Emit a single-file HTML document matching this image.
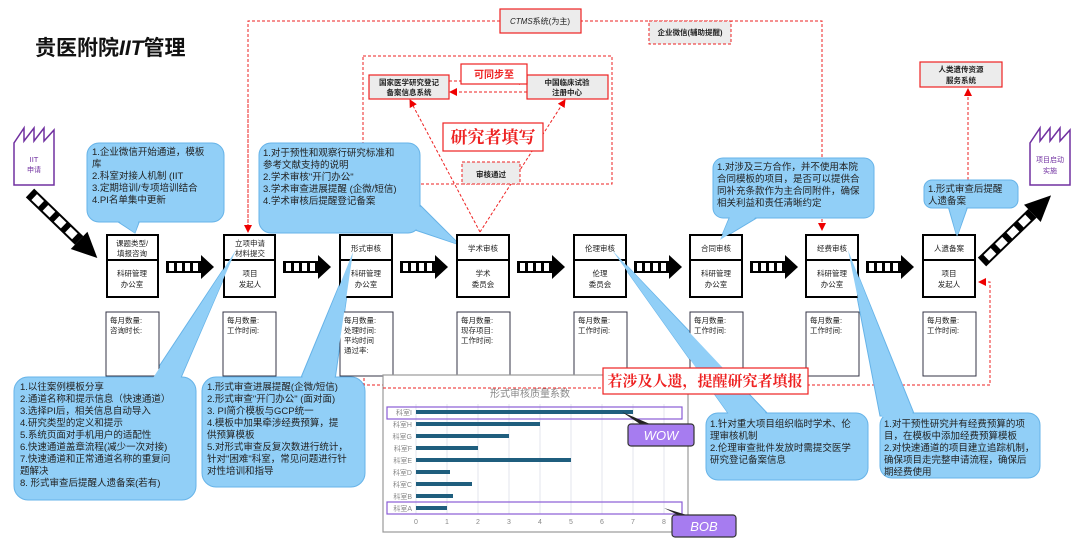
<!DOCTYPE html>
<html><head><meta charset="utf-8">
<style>
html,body{margin:0;padding:0;background:#fff;}
svg{display:block;font-family:"Liberation Sans","Noto Sans CJK SC",sans-serif;}
.bt{font-size:9.5px;fill:#222;}
.bx{font-size:8px;fill:#222;}
.sm{font-size:7.5px;fill:#222;}
</style></head><body>
<svg width="1080" height="549" viewBox="0 0 1080 549" xmlns="http://www.w3.org/2000/svg">
<defs>
<g id="fa">
<rect x="0" y="-6" width="35" height="12" fill="#000"/>
<rect x="3" y="-4" width="5" height="8" fill="#fff"/>
<rect x="11" y="-4" width="5" height="8" fill="#fff"/>
<rect x="19" y="-4" width="5" height="8" fill="#fff"/>
<rect x="27" y="-4" width="5" height="8" fill="#fff"/>
<polygon points="35,-12 48,0 35,12" fill="#000"/>
</g>
<marker id="ar" markerWidth="8" markerHeight="8" refX="7" refY="4" orient="auto" markerUnits="userSpaceOnUse"><polygon points="0,0 8,4 0,8" fill="#e00"/></marker>
</defs>

<text x="35" y="55" font-size="21" font-weight="bold" fill="#111">贵医附院<tspan font-style="italic">IIT</tspan>管理</text>

<g stroke="#e22" stroke-width="1" stroke-dasharray="3,2" fill="none">
<polyline points="248,232 248,21 500,21"/>
<polyline points="580,21 822,21 822,230" marker-end="url(#ar)"/>
<line x1="248" y1="100" x2="248" y2="232" marker-end="url(#ar)"/>
<rect x="363" y="56" width="249" height="128"/>
<line x1="449" y1="81" x2="526" y2="81" marker-end="url(#ar)"/>
<line x1="527" y1="92" x2="450" y2="92" marker-end="url(#ar)"/>
<line x1="480" y1="232" x2="410" y2="100" marker-end="url(#ar)"/>
<line x1="480" y1="232" x2="565" y2="100" marker-end="url(#ar)"/>
<line x1="968" y1="185" x2="968" y2="89" marker-end="url(#ar)"/>
<polyline points="364,368 364,385 990,385 990,282 979,282" marker-end="url(#ar)"/>
</g>

<rect x="500" y="9" width="81" height="24" fill="#ececec" stroke="#e22" stroke-width="1.2"/>
<text x="540" y="24" class="bx" text-anchor="middle"><tspan font-style="italic">CTMS</tspan>系统(为主)</text>
<rect x="649" y="21" width="82" height="23" fill="#ececec" stroke="#e22" stroke-dasharray="3,2"/>
<text x="690" y="35" class="sm" text-anchor="middle" font-weight="bold">企业微信(辅助提醒)</text>

<rect x="369" y="75" width="80" height="24" fill="#ececec" stroke="#e22" stroke-width="1.2"/>
<text x="409" y="85" class="sm" text-anchor="middle" font-weight="bold">国家医学研究登记</text>
<text x="409" y="95" class="sm" text-anchor="middle" font-weight="bold">备案信息系统</text>
<rect x="527" y="75" width="81" height="24" fill="#ececec" stroke="#e22" stroke-width="1.2"/>
<text x="567" y="85" class="sm" text-anchor="middle" font-weight="bold">中国临床试验</text>
<text x="567" y="95" class="sm" text-anchor="middle" font-weight="bold">注册中心</text>
<rect x="461" y="64" width="66" height="20" fill="#fff" stroke="#e22" stroke-width="1.2"/>
<text x="494" y="78" font-size="10" font-weight="bold" fill="#e22" text-anchor="middle">可同步至</text>
<rect x="443" y="123" width="100" height="28" fill="#fff" stroke="#e22" stroke-width="1.2"/>
<text x="493" y="143" font-size="17" font-weight="bold" fill="#e22" text-anchor="middle" font-family="Liberation Serif,Noto Serif CJK SC,serif">研究者填写</text>
<rect x="462" y="162" width="58" height="22" fill="#ececec" stroke="#e22" stroke-dasharray="3,2"/>
<text x="491" y="177" class="sm" text-anchor="middle" font-weight="bold">审核通过</text>

<rect x="920" y="62" width="82" height="25" fill="#ececec" stroke="#e22" stroke-width="1.2"/>
<text x="961" y="72" class="sm" text-anchor="middle" font-weight="bold">人类遗传资源</text>
<text x="961" y="83" class="sm" text-anchor="middle" font-weight="bold">服务系统</text>

<g fill="#fff" stroke="#7030a0" stroke-width="1.5">
<polygon points="14,185 14,143 24,128 24,141 34,128 34,141 44,128 44,141 54,130 54,185"/>
<polygon points="1030,185 1030,143 1040,128 1040,141 1050,128 1050,141 1060,128 1060,141 1070,130 1070,185"/>
</g>
<text x="34" y="162" font-size="7.5" fill="#7030a0" text-anchor="middle">IIT</text>
<text x="34" y="172" font-size="7" fill="#7030a0" text-anchor="middle">申请</text>
<text x="1050" y="162" font-size="7" fill="#7030a0" text-anchor="middle">项目启动</text>
<text x="1050" y="173" font-size="7" fill="#7030a0" text-anchor="middle">实施</text>

<use href="#fa" transform="translate(30,193) rotate(44) scale(1.95,1)"/>
<use href="#fa" transform="translate(982,262) rotate(-44) scale(2,1)"/>
<use href="#fa" transform="translate(166,267)"/>
<use href="#fa" transform="translate(283,267)"/>
<use href="#fa" transform="translate(400,267)"/>
<use href="#fa" transform="translate(517,267)"/>
<use href="#fa" transform="translate(634,267)"/>
<use href="#fa" transform="translate(750,267)"/>
<use href="#fa" transform="translate(866,267)"/>

<g fill="#91cff7" stroke="#66b3e8" stroke-width="1">
<polygon points="115,220 135,233 140,220"/>
<rect x="87" y="143" width="137" height="79" rx="12"/>
<polygon points="116,219 135,233 139,219" stroke="none"/>

<polygon points="400,225 460,245 420,205"/>
<rect x="259" y="143" width="161" height="90" rx="12"/>
<polygon points="401,224 460,245 419,206" stroke="none"/>

<polygon points="730,216 720,240 760,216"/>
<rect x="713" y="158" width="161" height="60" rx="10"/>
<polygon points="731,215 720,240 759,215" stroke="none"/>

<polygon points="948,206 957,237 968,206"/>
<rect x="924" y="180" width="94" height="28" rx="8"/>
<polygon points="949,205 957,237 967,205" stroke="none"/>

<polygon points="150,380 236,250 180,380"/>
<rect x="14" y="377" width="182" height="123" rx="14"/>
<polygon points="151,381 236,250 179,381" stroke="none"/>

<polygon points="300,380 353,252 335,380"/>
<rect x="202" y="377" width="163" height="110" rx="14"/>
<polygon points="301,381 353,252 334,381" stroke="none"/>

<polygon points="730,416 612,250 770,416"/>
<rect x="706" y="413" width="162" height="67" rx="12"/>
<polygon points="731,417 612,250 769,417" stroke="none"/>

<polygon points="880,416 848,250 915,416"/>
<rect x="880" y="413" width="160" height="65" rx="12"/>
<polygon points="882,417 848,250 914,417" stroke="none"/>
</g>

<g class="bt">
<text x="92" y="155">1.企业微信开始通道，模板</text>
<text x="92" y="167">库</text>
<text x="92" y="179">2.科室对接人机制 (IIT</text>
<text x="92" y="191">3.定期培训/专项培训结合</text>
<text x="92" y="203">4.PI名单集中更新</text>

<text x="263" y="156">1.对于预性和观察行研究标准和</text>
<text x="263" y="168">参考文献支持的说明</text>
<text x="263" y="180">2.学术审核"开门办公"</text>
<text x="263" y="192">3.学术审查进展提醒 (企微/短信)</text>
<text x="263" y="204">4.学术审核后提醒登记备案</text>

<text x="717" y="170">1.对涉及三方合作，并不使用本院</text>
<text x="717" y="182">合同模板的项目，是否可以提供合</text>
<text x="717" y="194">同补充条款作为主合同附件，确保</text>
<text x="717" y="206">相关利益和责任清晰约定</text>

<text x="928" y="192">1.形式审查后提醒</text>
<text x="928" y="204">人遗备案</text>

<text x="20" y="390">1.以往案例模板分享</text>
<text x="20" y="402">2.通道名称和提示信息（快速通道）</text>
<text x="20" y="414">3.选择PI后，相关信息自动导入</text>
<text x="20" y="426">4.研究类型的定义和提示</text>
<text x="20" y="438">5.系统页面对手机用户的适配性</text>
<text x="20" y="450">6.快速通道盖章流程(减少一次对接)</text>
<text x="20" y="462">7.快速通道和正常通道名称的重复问</text>
<text x="20" y="474">题解决</text>
<text x="20" y="486">8. 形式审查后提醒人遗备案(若有)</text>

<text x="207" y="390">1.形式审查进展提醒(企微/短信)</text>
<text x="207" y="402">2.形式审查"开门办公" (面对面)</text>
<text x="207" y="414">3. PI简介模板与GCP统一</text>
<text x="207" y="426">4.模板中加果牵涉经费预算，提</text>
<text x="207" y="438">供预算模板</text>
<text x="207" y="450">5.对形式审查反复次数进行统计，</text>
<text x="207" y="462">针对"困难"科室，常见问题进行针</text>
<text x="207" y="474">对性培训和指导</text>

<text x="710" y="427">1.针对重大项目组织临时学术、伦</text>
<text x="710" y="439">理审核机制</text>
<text x="710" y="451">2.伦理审查批件发放时需提交医学</text>
<text x="710" y="463">研究登记备案信息</text>

<text x="884" y="427">1.对干预性研究并有经费预算的项</text>
<text x="884" y="439">目，在模板中添加经费预算模板</text>
<text x="884" y="451">2.对快速通道的项目建立追踪机制，</text>
<text x="884" y="463">确保项目走完整申请流程，确保后</text>
<text x="884" y="475">期经费使用</text>
</g>

<g fill="#fff" stroke="#000" stroke-width="2">
<rect x="107" y="235" width="51" height="62"/><line x1="107" y1="260" x2="158" y2="260"/>
<rect x="224" y="235" width="51" height="62"/><line x1="224" y1="260" x2="275" y2="260"/>
<rect x="340" y="235" width="52" height="62"/><line x1="340" y1="260" x2="392" y2="260"/>
<rect x="457" y="235" width="52" height="62"/><line x1="457" y1="260" x2="509" y2="260"/>
<rect x="574" y="235" width="52" height="62"/><line x1="574" y1="260" x2="626" y2="260"/>
<rect x="690" y="235" width="52" height="62"/><line x1="690" y1="260" x2="742" y2="260"/>
<rect x="806" y="235" width="52" height="62"/><line x1="806" y1="260" x2="858" y2="260"/>
<rect x="923" y="235" width="52" height="62"/><line x1="923" y1="260" x2="975" y2="260"/>
</g>
<g class="sm" text-anchor="middle">
<text x="132" y="246">课题类型/</text><text x="132" y="256">填报咨询</text>
<text x="132" y="276">科研管理</text><text x="132" y="287">办公室</text>
<text x="250" y="246">立项申请</text><text x="250" y="256">材料提交</text>
<text x="250" y="276">项目</text><text x="250" y="287">发起人</text>
<text x="366" y="251">形式审核</text>
<text x="366" y="276">科研管理</text><text x="366" y="287">办公室</text>
<text x="483" y="251">学术审核</text>
<text x="483" y="276">学术</text><text x="483" y="287">委员会</text>
<text x="600" y="251">伦理审核</text>
<text x="600" y="276">伦理</text><text x="600" y="287">委员会</text>
<text x="716" y="251">合同审核</text>
<text x="716" y="276">科研管理</text><text x="716" y="287">办公室</text>
<text x="832" y="251">经费审核</text>
<text x="832" y="276">科研管理</text><text x="832" y="287">办公室</text>
<text x="949" y="251">人遗备案</text>
<text x="949" y="276">项目</text><text x="949" y="287">发起人</text>
</g>

<g fill="#fff" stroke="#334" stroke-width="1">
<rect x="106" y="312" width="53" height="64"/>
<rect x="223" y="312" width="53" height="64"/>
<rect x="340" y="312" width="53" height="64"/>
<rect x="457" y="312" width="53" height="64"/>
<rect x="574" y="312" width="53" height="64"/>
<rect x="690" y="312" width="53" height="64"/>
<rect x="806" y="312" width="53" height="64"/>
<rect x="923" y="312" width="53" height="64"/>
</g>
<g class="sm">
<text x="110" y="323">每月数量:</text><text x="110" y="333">咨询时长:</text>
<text x="227" y="323">每月数量:</text><text x="227" y="333">工作时间:</text>
<text x="344" y="323">每月数量:</text><text x="344" y="333">处理时间:</text><text x="344" y="343">平均时间</text><text x="344" y="353">通过率:</text>
<text x="461" y="323">每月数量:</text><text x="461" y="333">现存项目:</text><text x="461" y="343">工作时间:</text>
<text x="578" y="323">每月数量:</text><text x="578" y="333">工作时间:</text>
<text x="694" y="323">每月数量:</text><text x="694" y="333">工作时间:</text>
<text x="810" y="323">每月数量:</text><text x="810" y="333">工作时间:</text>
<text x="927" y="323">每月数量:</text><text x="927" y="333">工作时间:</text>
</g>
<g fill="#91cff7">
<polygon points="151,381 236,250 179,381"/>
<polygon points="301,381 353,252 334,381"/>
<polygon points="731,417 612,250 769,417"/>
<polygon points="882,417 848,250 914,417"/>
<polygon points="949,205 957,237 967,205"/>
<polygon points="731,215 720,240 759,215"/>
</g>

<rect x="383" y="375" width="305" height="157" fill="#fff" stroke="#999" stroke-width="1.2"/>
<line x1="383" y1="388" x2="690" y2="388" stroke="#e22" stroke-dasharray="3,2"/>
<text x="530" y="397" font-size="10" fill="#888" text-anchor="middle">形式审核质量系数</text>
<g stroke="#e3e6ee" stroke-width="1">
<line x1="416" y1="404" x2="416" y2="514"/><line x1="447" y1="404" x2="447" y2="514"/>
<line x1="478" y1="404" x2="478" y2="514"/><line x1="509" y1="404" x2="509" y2="514"/>
<line x1="540" y1="404" x2="540" y2="514"/><line x1="571" y1="404" x2="571" y2="514"/>
<line x1="602" y1="404" x2="602" y2="514"/><line x1="633" y1="404" x2="633" y2="514"/>
<line x1="664" y1="404" x2="664" y2="514"/>
</g>
<g fill="#1f5e7e">
<rect x="416" y="410" width="217" height="4"/>
<rect x="416" y="422" width="124" height="4"/>
<rect x="416" y="434" width="93" height="4"/>
<rect x="416" y="446" width="62" height="4"/>
<rect x="416" y="458" width="155" height="4"/>
<rect x="416" y="470" width="34" height="4"/>
<rect x="416" y="482" width="56" height="4"/>
<rect x="416" y="494" width="37" height="4"/>
<rect x="416" y="506" width="31" height="4"/>
</g>
<g font-size="7" fill="#888" text-anchor="end">
<text x="412" y="415">科室I</text><text x="412" y="427">科室H</text><text x="412" y="439">科室G</text>
<text x="412" y="451">科室F</text><text x="412" y="463">科室E</text><text x="412" y="475">科室D</text>
<text x="412" y="487">科室C</text><text x="412" y="499">科室B</text><text x="412" y="511">科室A</text>
</g>
<g font-size="7" fill="#888" text-anchor="middle">
<text x="416" y="524">0</text><text x="447" y="524">1</text><text x="478" y="524">2</text><text x="509" y="524">3</text>
<text x="540" y="524">4</text><text x="571" y="524">5</text><text x="602" y="524">6</text><text x="633" y="524">7</text><text x="664" y="524">8</text>
</g>
<rect x="387" y="407" width="295" height="12" fill="none" stroke="#8a5cd6" stroke-width="1.2"/>
<rect x="387" y="502" width="295" height="12" fill="none" stroke="#8a5cd6" stroke-width="1.2"/>
<polygon points="622,412 640,424 650,424" fill="#222"/>
<rect x="628" y="424" width="66" height="22" rx="3" fill="#a67cf0" stroke="#333" stroke-width="1.2"/>
<text x="661" y="440" font-size="13" font-style="italic" fill="#fff" text-anchor="middle">WOW</text>
<polygon points="664,508 680,516 690,516" fill="#222"/>
<rect x="672" y="515" width="64" height="22" rx="3" fill="#a67cf0" stroke="#333" stroke-width="1.2"/>
<text x="704" y="531" font-size="13" font-style="italic" fill="#fff" text-anchor="middle">BOB</text>

<rect x="603" y="368" width="205" height="26" fill="#fff" stroke="#e22" stroke-width="1.2"/>
<text x="705" y="386" font-size="15" font-weight="bold" fill="#e22" text-anchor="middle" font-family="Liberation Serif,Noto Serif CJK SC,serif">若涉及人遗，提醒研究者填报</text>
</svg>
</body></html>
